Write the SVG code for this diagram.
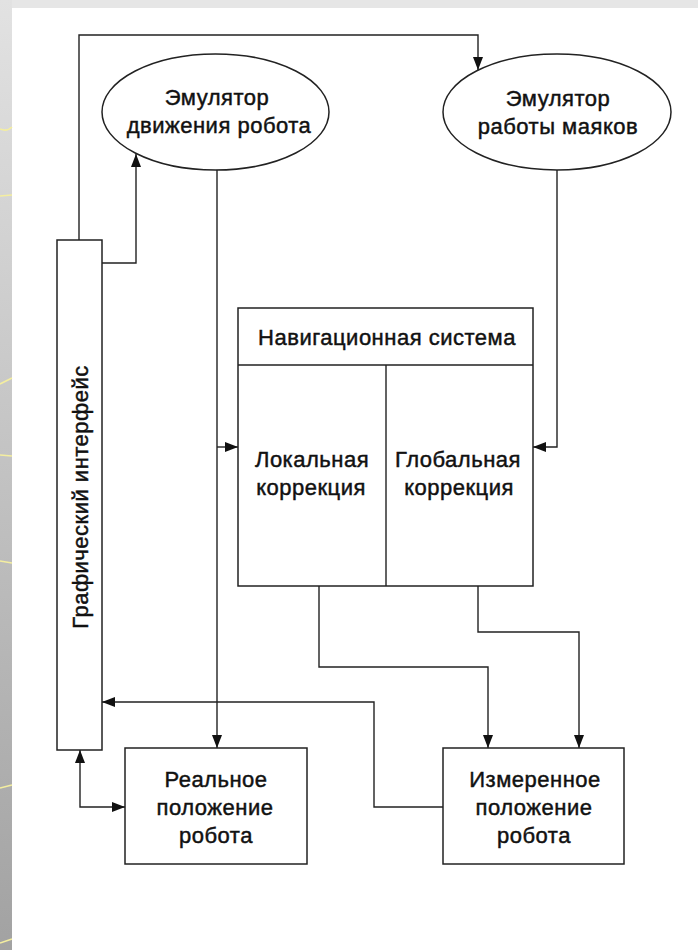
<svg xmlns="http://www.w3.org/2000/svg" width="698" height="950" viewBox="0 0 698 950">
  <style>
    .ln { fill: none; stroke: #222; stroke-width: 1.4; }
    .box { fill: #fff; stroke: #222; stroke-width: 1.5; }
    .t { font-family: "Liberation Sans", Arial, sans-serif; font-size: 22px; fill: #111; stroke: #111; stroke-width: 0.45; text-anchor: middle; letter-spacing: 0.5px; }
    .yl { fill: none; stroke: #f4eea0; stroke-width: 1.6; }
  </style>
  <defs>
    <linearGradient id="strip" x1="0" y1="0" x2="0" y2="1">
      <stop offset="0" stop-color="#e2e2e2"/>
      <stop offset="1" stop-color="#a2a2a2"/>
    </linearGradient>
    <marker id="ah" viewBox="0 0 13 10" markerWidth="13" markerHeight="10" refX="13" refY="5" orient="auto-start-reverse" markerUnits="userSpaceOnUse">
      <path d="M0,0 L13,5 L0,10 Z" fill="#111"/>
    </marker>
  </defs>

  <!-- background -->
  <rect x="0" y="0" width="698" height="950" fill="#ffffff"/>
  <rect x="0" y="0" width="698" height="8" fill="#e6e6e6"/>
  <rect x="0" y="0" width="12" height="950" fill="url(#strip)"/>
  <g id="deco">
    <path class="yl" d="M0,129 Q7,132 12,127"/>
    <path class="yl" d="M0,196 L12,195"/>
    <path class="yl" d="M0,384 L12,378"/>
    <path class="yl" d="M0,455 L12,456"/>
    <path class="yl" d="M0,561 L12,563"/>
    <path class="yl" d="M0,788 L12,785"/>
    <path class="yl" d="M0,943 L12,939"/>
  </g>

  <g id="connectors">
    <path class="ln" d="M79,240 V35 H478 V70" marker-end="url(#ah)"/>
    <path class="ln" d="M102,263 H136 V154" marker-end="url(#ah)"/>
    <path class="ln" d="M217,170 V748" marker-end="url(#ah)"/>
    <path class="ln" d="M217,447 H238" marker-end="url(#ah)"/>
    <path class="ln" d="M557,170 V447 H533" marker-end="url(#ah)"/>
    <path class="ln" d="M319,586 V667 H488 V748" marker-end="url(#ah)"/>
    <path class="ln" d="M478,586 V632 H579 V748" marker-end="url(#ah)"/>
    <path class="ln" d="M443,807 H374 V702 H102" marker-end="url(#ah)"/>
    <path class="ln" d="M80,750 V807 H125" marker-start="url(#ah)" marker-end="url(#ah)"/>
  </g>

  <g id="emu-motion">
    <ellipse class="box" cx="215.5" cy="112" rx="113.5" ry="58" stroke-width="1.2"/>
    <text class="t" x="217" y="105">Эмулятор</text>
    <text class="t" x="219" y="133" letter-spacing="1.1">движения робота</text>
  </g>

  <g id="emu-beacons">
    <ellipse class="box" cx="557" cy="112" rx="114" ry="58" stroke-width="1.2"/>
    <text class="t" x="558" y="106">Эмулятор</text>
    <text class="t" x="558" y="134">работы маяков</text>
  </g>

  <g id="gui">
    <rect class="box" x="57" y="240" width="45" height="510"/>
    <text class="t" transform="translate(88,497) rotate(-90)" x="0" y="0" letter-spacing="1.4">Графический интерфейс</text>
  </g>

  <g id="nav">
    <rect class="box" x="238" y="308" width="295" height="278"/>
    <path class="ln" d="M238,365 H533 M386,365 V586"/>
    <text class="t" x="387" y="345">Навигационная система</text>
  </g>
  <g id="local">
    <text class="t" x="312" y="467">Локальная</text>
    <text class="t" x="311" y="495">коррекция</text>
  </g>
  <g id="global">
    <text class="t" x="458" y="467">Глобальная</text>
    <text class="t" x="459" y="495">коррекция</text>
  </g>

  <g id="real">
    <rect class="box" x="125" y="748" width="182" height="116"/>
    <text class="t" x="216" y="787">Реальное</text>
    <text class="t" x="215" y="815">положение</text>
    <text class="t" x="216" y="843">робота</text>
  </g>

  <g id="measured">
    <rect class="box" x="443" y="748" width="181" height="116"/>
    <text class="t" x="535" y="787">Измеренное</text>
    <text class="t" x="534" y="815">положение</text>
    <text class="t" x="534" y="843">робота</text>
  </g>
</svg>
